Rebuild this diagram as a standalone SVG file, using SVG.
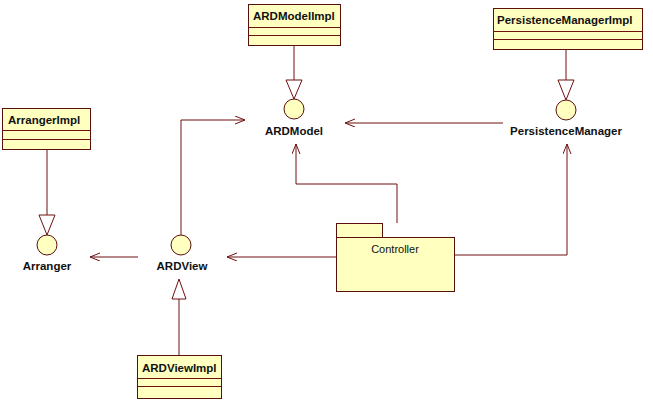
<svg xmlns="http://www.w3.org/2000/svg" width="653" height="404" viewBox="0 0 653 404">
<style>
.box{fill:#ffffc0;stroke:#5a0f0f;stroke-width:1}
.ln{fill:none;stroke:#6e1010;stroke-width:1}
.tri{fill:#ffffff;stroke:#6e1010;stroke-width:1}
.cls{font-family:"Liberation Sans",Arial,sans-serif;font-weight:bold;font-size:11.5px;fill:#111}
.lbl{font-family:"Liberation Sans",Arial,sans-serif;font-weight:bold;font-size:11.5px;fill:#111;text-anchor:middle}
.pkg{font-family:"Liberation Sans",Arial,sans-serif;font-size:11px;fill:#111;text-anchor:middle}
</style>
<defs>
<marker id="open" markerUnits="userSpaceOnUse" markerWidth="12" markerHeight="10" refX="10" refY="4" orient="auto">
<path d="M0,0 L10,4 L0,8" fill="none" stroke="#6e1010" stroke-width="1"/>
</marker>
</defs>
<rect width="653" height="404" fill="#ffffff"/>
<g id="connectors">
<path class="ln" d="M294,45 V80"/>
<path class="ln" d="M566,49 V80"/>
<path class="ln" d="M47,149 V215"/>
<path class="ln" d="M179,355 V299"/>
<path class="ln" d="M503,123 H345" marker-end="url(#open)"/>
<path class="ln" d="M454,255 H567 V144" marker-end="url(#open)"/>
<path class="ln" d="M397,223 V184 H296 V144" marker-end="url(#open)"/>
<path class="ln" d="M336,257 H227" marker-end="url(#open)"/>
<path class="ln" d="M138,257 H90" marker-end="url(#open)"/>
<path class="ln" d="M181,235 V120 H245" marker-end="url(#open)"/>
<polygon class="tri" points="286,80 302,80 294,99"/>
<polygon class="tri" points="558,80 574,80 566,100"/>
<polygon class="tri" points="39,215 55,215 47,235"/>
<polygon class="tri" points="172,299 186,299 179,279"/>
</g>
<g id="ARDModelImpl">
<rect class="box" x="248.5" y="4.5" width="92" height="41"/>
<path class="ln" d="M248.5,27.5 H340.5 M248.5,35.5 H340.5"/>
<text class="cls" x="253" y="20">ARDModelImpl</text>
</g>
<g id="PersistenceManagerImpl">
<rect class="box" x="493.5" y="8.5" width="149" height="41"/>
<path class="ln" d="M493.5,31.5 H642.5 M493.5,39.5 H642.5"/>
<text class="cls" x="497" y="24">PersistenceManagerImpl</text>
</g>
<g id="ArrangerImpl">
<rect class="box" x="2.5" y="108.5" width="88" height="41"/>
<path class="ln" d="M2.5,130.5 H90.5 M2.5,139.5 H90.5"/>
<text class="cls" x="8" y="124">ArrangerImpl</text>
</g>
<g id="ARDViewImpl">
<rect class="box" x="137.5" y="355.5" width="84" height="43"/>
<path class="ln" d="M137.5,378.5 H221.5 M137.5,386.5 H221.5"/>
<text class="cls" x="142" y="372">ARDViewImpl</text>
</g>
<g id="ARDModel">
<circle class="box" cx="294" cy="109" r="10"/>
<text class="lbl" x="294" y="135">ARDModel</text>
</g>
<g id="PersistenceManager">
<circle class="box" cx="566" cy="110" r="10"/>
<text class="lbl" x="566" y="135">PersistenceManager</text>
</g>
<g id="Arranger">
<circle class="box" cx="47" cy="245" r="10"/>
<text class="lbl" x="47" y="270">Arranger</text>
</g>
<g id="ARDView">
<circle class="box" cx="181" cy="245" r="10"/>
<text class="lbl" x="182" y="270">ARDView</text>
</g>
<g id="Controller">
<rect class="box" x="336.5" y="223.5" width="46" height="14"/>
<rect class="box" x="336.5" y="237.5" width="118" height="54"/>
<text class="pkg" x="395" y="253">Controller</text>
</g>
</svg>
